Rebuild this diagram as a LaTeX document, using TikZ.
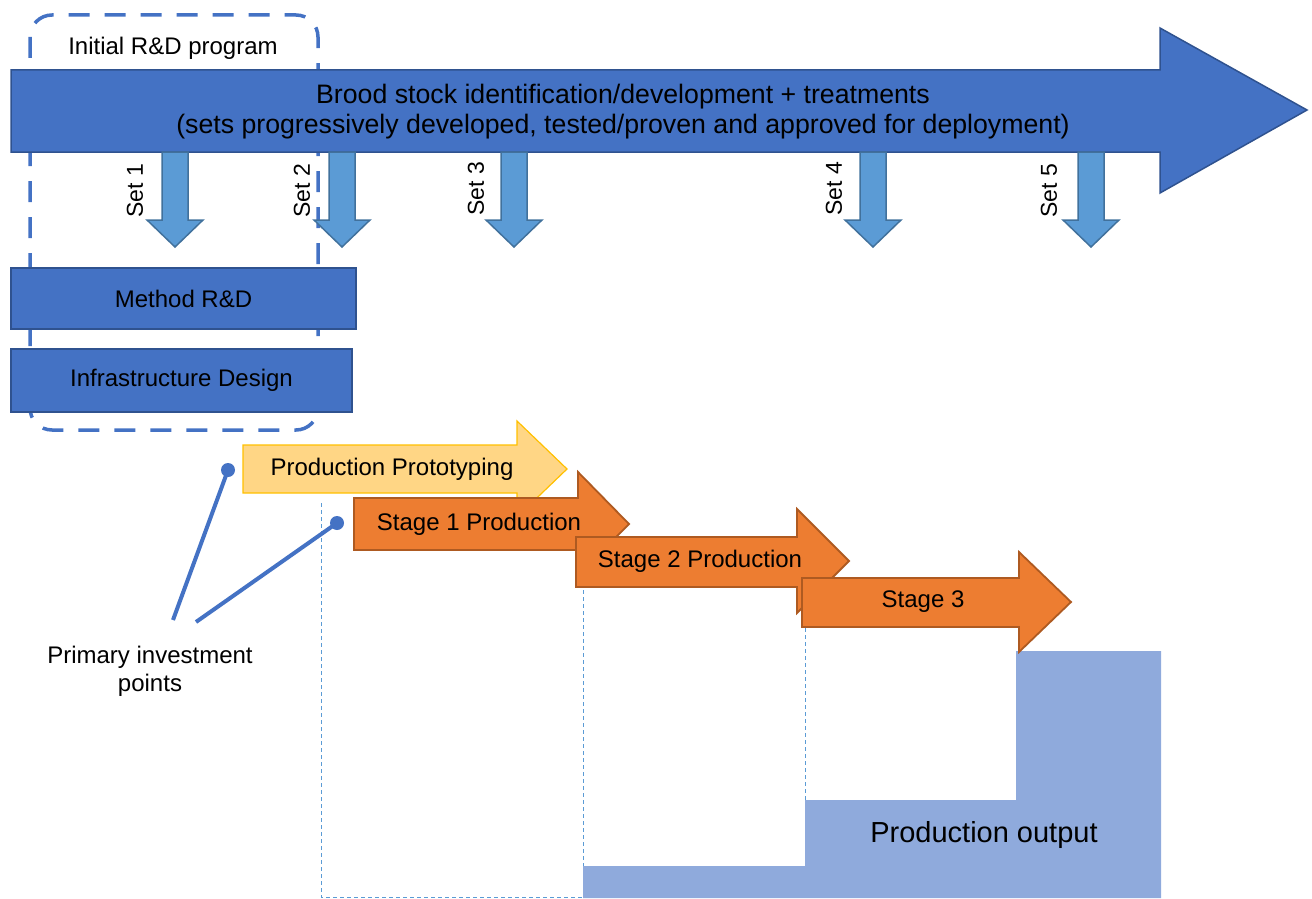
\documentclass[tikz,border=0pt]{standalone}
\usepackage{fontspec}
\setmainfont{Liberation Sans}
\definecolor{cblue}{HTML}{4472C4}
\definecolor{cbluedark}{HTML}{2F528F}
\definecolor{clight}{HTML}{5B9BD5}
\definecolor{clightdark}{HTML}{41719C}
\definecolor{cproto}{HTML}{FFD685}
\definecolor{cprotodark}{HTML}{FFC000}
\definecolor{corange}{HTML}{ED7D31}
\definecolor{corangedark}{HTML}{AE5A21}
\definecolor{coutput}{HTML}{8FAADC}
\begin{document}
\begin{tikzpicture}[x=1pt,y=-1pt,
  bigarrow/.style={fill=cblue, draw=cbluedark, line width=1.5pt},
  setarrow/.style={fill=clight, draw=clightdark, line width=1.5pt},
  protoarrow/.style={fill=cproto, draw=cprotodark, line width=1.2pt},
  stagearrow/.style={fill=corange, draw=corangedark, line width=1.8pt},
  bluebox/.style={fill=cblue, draw=cbluedark, line width=2pt, inner sep=0pt},
  txt/.style={font=\fontsize{24pt}{28pt}\selectfont, inner sep=0pt, align=center},
  bigtxt/.style={font=\fontsize{26.7pt}{30pt}\selectfont, inner sep=0pt, align=center},
  settxt/.style={font=\fontsize{23pt}{27pt}\selectfont, inner sep=0pt, rotate=90},
  guide/.style={draw=clight, line width=0.8pt, dash pattern=on 4pt off 3pt},
  pointer/.style={draw=cblue, line width=4pt},
  dot/.style={circle, fill=cblue, inner sep=0pt, minimum size=14pt},
]
\useasboundingbox (0,0) rectangle (1312,899);

% dashed R&D frame
\draw[cblue, line width=3.5pt, dash pattern=on 21pt off 15pt, rounded corners=22pt]
  (30,15) rectangle (318,430);
\node[txt] (initial) at (173,48) {Initial R\&D program};

% big arrow
\draw[bigarrow] (11,70) -- (1160,70) -- (1160,28) -- (1307,110) -- (1160,193) -- (1160,152) -- (11,152) -- cycle;
\node[bigtxt] (brood) at (623,112) {Brood stock identification/development + treatments\\(sets progressively developed, tested/proven and approved for deployment)};

% set arrows
\foreach \cx in {175,342,514,873,1091}{
  \draw[setarrow] ({\cx-13},152) -- ({\cx+13},152) -- ({\cx+13},220) -- ({\cx+28},220)
     -- (\cx,247) -- ({\cx-28},220) -- ({\cx-13},220) -- cycle;
}
\node[settxt] (set1) at (135,191) {Set 1};
\node[settxt] (set2) at (302,191) {Set 2};
\node[settxt] (set3) at (476,189) {Set 3};
\node[settxt] (set4) at (834,189) {Set 4};
\node[settxt] (set5) at (1049,191) {Set 5};

% R&D boxes
\node[bluebox, minimum width=345pt, minimum height=61pt] (method) at (183.5,298.5) {};
\node[txt] (methodtxt) at (183.5,298.5) {Method R\&D};
\node[bluebox, minimum width=341pt, minimum height=63pt] (infra) at (181.5,380.5) {};
\node[txt] (infratxt) at (181.5,380.5) {Infrastructure Design};

% production output blocks
\fill[coutput] (583,866) -- (805,866) -- (805,800) -- (1016,800) -- (1016,651) -- (1161,651) -- (1161,898) -- (583,898) -- cycle;
\node[font=\fontsize{29pt}{33pt}\selectfont, inner sep=0pt] (output) at (984,835) {Production output};

% guide lines
\draw[guide] (321,503) -- (321,897) -- (583,897);
\draw[guide] (583,590) -- (583,866);
\draw[guide] (805,628) -- (805,800);

% production arrows
\draw[protoarrow] (243,445) -- (517,445) -- (517,421) -- (567,469) -- (517,517) -- (517,493) -- (243,493) -- cycle;
\node[txt] (proto) at (392,469) {Production Prototyping};
\draw[stagearrow] (354,498) -- (578,498) -- (578,472) -- (629,524) -- (578,576) -- (578,550) -- (354,550) -- cycle;
\node[txt] (stage1) at (479,524) {Stage 1 Production};
\draw[stagearrow] (576,537) -- (797,537) -- (797,509) -- (849,561) -- (797,613) -- (797,587) -- (576,587) -- cycle;
\node[txt] (stage2) at (700,561) {Stage 2 Production};
\draw[stagearrow] (802,578) -- (1019,578) -- (1019,552) -- (1071,602) -- (1019,652) -- (1019,627) -- (802,627) -- cycle;
\node[txt] (stage3) at (923,602) {Stage 3};

% primary investment points
\node[txt] (primary) at (150,671) {Primary investment\\points};
\node[dot] (dot1) at (228,470) {};
\node[dot] (dot2) at (337,523) {};
\coordinate (p1) at (173,620);
\coordinate (p2) at (196,622);
\draw[pointer] (p1) -- (dot1.center);
\draw[pointer] (p2) -- (dot2.center);
\end{tikzpicture}
\end{document}
